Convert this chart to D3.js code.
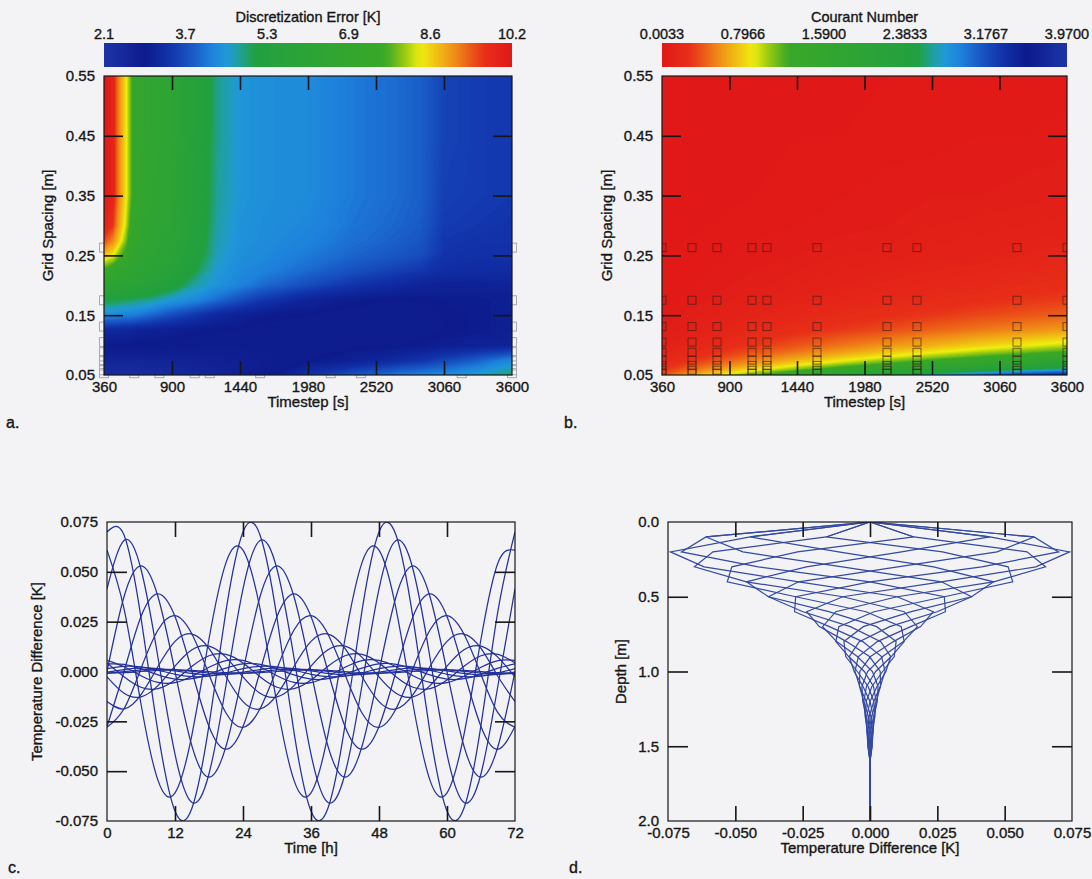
<!DOCTYPE html>
<html>
<head>
<meta charset="utf-8">
<script src="https://cdn.jsdelivr.net/npm/d3@7"></script>
<style>
  body { margin: 0; background: #f3f3f5; }
  text { font-family: "Liberation Sans", Arial, sans-serif; }
</style>
</head>
<body>
<svg id="fig" width="1092" height="879"></svg>
<script>
// ---------- a. discretization error field (timestep x grid spacing) ----------
var errTimesteps = [360, 430, 470, 530, 570, 610, 720, 900, 1080, 1260, 1440, 1620, 1980, 2340, 2700, 2880, 3060, 3330, 3600];
var errSpacings = [0.55, 0.45, 0.35, 0.30, 0.275, 0.25, 0.225, 0.20, 0.175, 0.15, 0.125, 0.10, 0.075, 0.05];
var errValues = [
  [10.2, 9.9, 9.2, 8.5, 7.9, 7.1, 6.7, 6.4, 5.6, 4.85, 4.5, 4.4, 4.35, 4.15, 4.0, 3.9, 3.6, 3.5, 3.45],
  [10.2, 9.9, 9.2, 8.5, 7.9, 7.1, 6.7, 6.4, 5.6, 4.85, 4.5, 4.4, 4.35, 4.15, 4.0, 3.9, 3.6, 3.5, 3.45],
  [10.2, 9.9, 9.2, 8.5, 7.9, 7.1, 6.6, 6.3, 5.55, 4.8, 4.5, 4.4, 4.35, 4.15, 4.0, 3.9, 3.55, 3.5, 3.45],
  [10.0, 9.6, 9.0, 8.3, 7.6, 7.0, 6.5, 6.2, 5.5, 4.75, 4.45, 4.38, 4.3, 4.1, 3.95, 3.85, 3.5, 3.45, 3.4],
  [9.5, 9.1, 8.7, 8.0, 7.4, 6.9, 6.4, 6.1, 5.45, 4.7, 4.45, 4.36, 4.25, 4.05, 3.9, 3.8, 3.45, 3.4, 3.4],
  [8.7, 8.4, 8.0, 7.5, 7.0, 6.7, 6.3, 6.0, 5.35, 4.65, 4.4, 4.33, 4.15, 3.95, 3.8, 3.7, 3.4, 3.35, 3.35],
  [7.6, 7.3, 7.0, 6.7, 6.5, 6.4, 6.1, 5.8, 5.1, 4.55, 4.35, 4.25, 4.0, 3.75, 3.55, 3.45, 3.3, 3.25, 3.25],
  [6.4, 6.3, 6.3, 6.2, 6.1, 6.0, 5.8, 5.3, 4.75, 4.45, 4.25, 4.0, 3.7, 3.4, 3.2, 3.1, 3.05, 3.05, 3.1],
  [5.1, 5.1, 5.05, 5.0, 4.95, 4.9, 4.8, 4.5, 4.3, 4.0, 3.7, 3.45, 3.1, 2.95, 2.9, 2.9, 2.95, 2.95, 3.0],
  [4.3, 4.3, 4.25, 4.2, 4.2, 4.15, 4.0, 3.7, 3.45, 3.2, 3.05, 2.95, 2.9, 2.85, 2.85, 2.85, 2.9, 2.95, 3.0],
  [3.2, 3.2, 3.2, 3.15, 3.15, 3.1, 3.05, 3.0, 2.95, 2.9, 2.9, 2.85, 2.85, 2.85, 2.85, 2.85, 2.9, 2.95, 3.0],
  [2.9, 2.9, 2.9, 2.9, 2.9, 2.9, 2.9, 2.88, 2.86, 2.85, 2.85, 2.85, 2.85, 2.88, 2.9, 2.95, 3.0, 3.05, 3.1],
  [2.6, 2.6, 2.6, 2.6, 2.6, 2.6, 2.62, 2.65, 2.7, 2.72, 2.75, 2.8, 2.9, 3.05, 3.25, 3.4, 3.6, 3.9, 4.3],
  [2.35, 2.35, 2.35, 2.35, 2.35, 2.36, 2.38, 2.42, 2.5, 2.6, 2.7, 2.85, 3.4, 3.8, 4.15, 4.25, 4.35, 4.6, 5.0]
];
var errRange = [2.1, 10.2];
var errTickLabels = ["2.1", "3.7", "5.3", "6.9", "8.6", "10.2"];

// ---------- b. courant number field ----------
var courantTimesteps = [360, 720, 1080, 1440, 1800, 2160, 2520, 2880, 3240, 3600];
var courantSpacings = [0.55, 0.45, 0.35, 0.30, 0.25, 0.20, 0.175, 0.15, 0.125, 0.10, 0.09, 0.08, 0.07, 0.06, 0.05];
var courantValues = [
  [0.00, 0.01, 0.01, 0.01, 0.02, 0.02, 0.02, 0.03, 0.03, 0.03],
  [0.00, 0.01, 0.01, 0.02, 0.02, 0.03, 0.03, 0.04, 0.04, 0.05],
  [0.01, 0.02, 0.02, 0.03, 0.04, 0.05, 0.06, 0.06, 0.07, 0.08],
  [0.01, 0.02, 0.03, 0.04, 0.05, 0.06, 0.08, 0.09, 0.10, 0.11],
  [0.02, 0.03, 0.05, 0.06, 0.08, 0.09, 0.11, 0.12, 0.14, 0.16],
  [0.02, 0.05, 0.07, 0.10, 0.12, 0.15, 0.17, 0.19, 0.22, 0.24],
  [0.03, 0.06, 0.10, 0.13, 0.16, 0.19, 0.22, 0.25, 0.29, 0.32],
  [0.04, 0.09, 0.13, 0.17, 0.22, 0.26, 0.30, 0.35, 0.39, 0.43],
  [0.06, 0.12, 0.19, 0.25, 0.31, 0.37, 0.44, 0.50, 0.56, 0.62],
  [0.10, 0.19, 0.29, 0.39, 0.49, 0.58, 0.68, 0.78, 0.87, 0.97],
  [0.12, 0.24, 0.36, 0.48, 0.60, 0.72, 0.84, 0.96, 1.08, 1.20],
  [0.15, 0.30, 0.46, 0.61, 0.76, 0.91, 1.06, 1.22, 1.37, 1.52],
  [0.20, 0.40, 0.60, 0.79, 0.99, 1.19, 1.39, 1.59, 1.79, 1.98],
  [0.27, 0.54, 0.81, 1.08, 1.35, 1.62, 1.89, 2.16, 2.43, 2.65],
  [0.39, 0.78, 1.17, 1.56, 1.94, 2.33, 2.72, 3.05, 3.30, 3.45]
];
var courantRange = [0.0033, 3.97];
var courantTickLabels = ["0.0033", "0.7966", "1.5900", "2.3833", "3.1767", "3.9700"];

// simulation runs marked with squares
var runTimesteps = [360, 600, 800, 1080, 1200, 1600, 2160, 2400, 3200, 3600];
var runSpacings = [0.263, 0.175, 0.131, 0.105, 0.088, 0.075, 0.066, 0.058, 0.053];

var stepTicks = [360, 900, 1440, 1980, 2520, 3060, 3600];
var stepTickLabels = ["360", "900", "1440", "1980", "2520", "3060", "3600"];
var spacingTicks = [0.55, 0.45, 0.35, 0.25, 0.15, 0.05];
var spacingTickLabels = ["0.55", "0.45", "0.35", "0.25", "0.15", "0.05"];

// ---------- c. temperature difference time series, one line per node ----------
var hours = [0, 3, 6, 9, 12, 15, 18, 21, 24, 27, 30, 33, 36, 39, 42, 45, 48, 51, 54, 57, 60, 63, 66, 69, 72];
var nodeDiffs = [
  [0.0609, 0.0315, -0.0163, -0.0546, -0.0609, -0.0315, 0.0163, 0.0546, 0.0609, 0.0315, -0.0163, -0.0546, -0.0609, -0.0315, 0.0163, 0.0546, 0.0609, 0.0315, -0.0163, -0.0546, -0.0609, -0.0315, 0.0163, 0.0546, 0.0609],
  [0.0700, 0.0685, 0.0269, -0.0305, -0.0700, -0.0685, -0.0269, 0.0305, 0.0700, 0.0685, 0.0269, -0.0305, -0.0700, -0.0685, -0.0269, 0.0305, 0.0700, 0.0685, 0.0269, -0.0305, -0.0700, -0.0685, -0.0269, 0.0305, 0.0700],
  [0.0415, 0.0657, 0.0513, 0.0069, -0.0415, -0.0657, -0.0513, -0.0069, 0.0415, 0.0657, 0.0513, 0.0069, -0.0415, -0.0657, -0.0513, -0.0069, 0.0415, 0.0657, 0.0513, 0.0069, -0.0415, -0.0657, -0.0513, -0.0069, 0.0415],
  [0.0000, 0.0375, 0.0530, 0.0375, 0.0000, -0.0375, -0.0530, -0.0375, 0.0000, 0.0375, 0.0530, 0.0375, 0.0000, -0.0375, -0.0530, -0.0375, 0.0000, 0.0375, 0.0530, 0.0375, 0.0000, -0.0375, -0.0530, -0.0375, 0.0000],
  [-0.0276, 0.0000, 0.0276, 0.0390, 0.0276, 0.0000, -0.0276, -0.0390, -0.0276, 0.0000, 0.0276, 0.0390, 0.0276, 0.0000, -0.0276, -0.0390, -0.0276, 0.0000, 0.0276, 0.0390, 0.0276, 0.0000, -0.0276, -0.0390, -0.0276],
  [-0.0280, -0.0187, 0.0015, 0.0208, 0.0280, 0.0187, -0.0015, -0.0208, -0.0280, -0.0187, 0.0015, 0.0208, 0.0280, 0.0187, -0.0015, -0.0208, -0.0280, -0.0187, 0.0015, 0.0208, 0.0280, 0.0187, -0.0015, -0.0208, -0.0280],
  [-0.0151, -0.0188, -0.0116, 0.0025, 0.0151, 0.0188, 0.0116, -0.0025, -0.0151, -0.0188, -0.0116, 0.0025, 0.0151, 0.0188, 0.0116, -0.0025, -0.0151, -0.0188, -0.0116, 0.0025, 0.0151, 0.0188, 0.0116, -0.0025, -0.0151],
  [-0.0027, -0.0109, -0.0127, -0.0071, 0.0027, 0.0109, 0.0127, 0.0071, -0.0027, -0.0109, -0.0127, -0.0071, 0.0027, 0.0109, 0.0127, 0.0071, -0.0027, -0.0109, -0.0127, -0.0071, 0.0027, 0.0109, 0.0127, 0.0071, -0.0027],
  [0.0043, -0.0026, -0.0079, -0.0086, -0.0043, 0.0026, 0.0079, 0.0086, 0.0043, -0.0026, -0.0079, -0.0086, -0.0043, 0.0026, 0.0079, 0.0086, 0.0043, -0.0026, -0.0079, -0.0086, -0.0043, 0.0026, 0.0079, 0.0086, 0.0043],
  [0.0056, 0.0024, -0.0021, -0.0055, -0.0056, -0.0024, 0.0021, 0.0055, 0.0056, 0.0024, -0.0021, -0.0055, -0.0056, -0.0024, 0.0021, 0.0055, 0.0056, 0.0024, -0.0021, -0.0055, -0.0056, -0.0024, 0.0021, 0.0055, 0.0056],
  [0.0038, 0.0036, 0.0013, -0.0017, -0.0038, -0.0036, -0.0013, 0.0017, 0.0038, 0.0036, 0.0013, -0.0017, -0.0038, -0.0036, -0.0013, 0.0017, 0.0038, 0.0036, 0.0013, -0.0017, -0.0038, -0.0036, -0.0013, 0.0017, 0.0038],
  [0.0014, 0.0026, 0.0023, 0.0007, -0.0014, -0.0026, -0.0023, -0.0007, 0.0014, 0.0026, 0.0023, 0.0007, -0.0014, -0.0026, -0.0023, -0.0007, 0.0014, 0.0026, 0.0023, 0.0007, -0.0014, -0.0026, -0.0023, -0.0007, 0.0014],
  [-0.0003, 0.0010, 0.0018, 0.0015, 0.0003, -0.0010, -0.0018, -0.0015, -0.0003, 0.0010, 0.0018, 0.0015, 0.0003, -0.0010, -0.0018, -0.0015, -0.0003, 0.0010, 0.0018, 0.0015, 0.0003, -0.0010, -0.0018, -0.0015, -0.0003],
  [-0.0009, -0.0001, 0.0008, 0.0012, 0.0009, 0.0001, -0.0008, -0.0012, -0.0009, -0.0001, 0.0008, 0.0012, 0.0009, 0.0001, -0.0008, -0.0012, -0.0009, -0.0001, 0.0008, 0.0012, 0.0009, 0.0001, -0.0008, -0.0012, -0.0009],
  [-0.0008, -0.0006, 0.0000, 0.0006, 0.0008, 0.0006, 0.0000, -0.0006, -0.0008, -0.0006, 0.0000, 0.0006, 0.0008, 0.0006, 0.0000, -0.0006, -0.0008, -0.0006, 0.0000, 0.0006, 0.0008, 0.0006, 0.0000, -0.0006, -0.0008]
];
var hourTicks = [0, 12, 24, 36, 48, 60, 72];
var diffTicks = [0.075, 0.05, 0.025, 0, -0.025, -0.05, -0.075];
var diffTickLabels = ["0.075", "0.050", "0.025", "0.000", "-0.025", "-0.050", "-0.075"];

// ---------- d. depth profiles of the difference, one line every 2 h ----------
var depths = [0, 0.1, 0.2, 0.3, 0.4, 0.5, 0.6, 0.7, 0.8, 0.9, 1.0, 1.1, 1.2, 1.3, 1.4, 1.5, 1.6, 1.7, 1.8, 1.9, 2.0];
var profileDiffs = [
  [0, 0.0609, 0.0700, 0.0415, 0.0000, -0.0276, -0.0280, -0.0151, -0.0027, 0.0043, 0.0056, 0.0038, 0.0014, -0.0003, -0.0009, -0.0008, 0, 0, 0, 0, 0],
  [0, 0.0445, 0.0741, 0.0616, 0.0265, -0.0101, -0.0235, -0.0188, -0.0087, -0.0002, 0.0038, 0.0039, 0.0023, 0.0006, -0.0004, -0.0007, 0, 0, 0, 0, 0],
  [0, 0.0163, 0.0583, 0.0652, 0.0459, 0.0101, -0.0127, -0.0176, -0.0124, -0.0047, 0.0009, 0.0030, 0.0027, 0.0014, 0.0002, -0.0004, 0, 0, 0, 0, 0],
  [0, -0.0163, 0.0269, 0.0513, 0.0530, 0.0276, 0.0015, -0.0116, -0.0127, -0.0079, -0.0021, 0.0013, 0.0023, 0.0018, 0.0008, 0.0000, 0, 0, 0, 0, 0],
  [0, -0.0445, -0.0117, 0.0236, 0.0459, 0.0377, 0.0153, -0.0025, -0.0097, -0.0090, -0.0047, -0.0007, 0.0014, 0.0017, 0.0011, 0.0004, 0, 0, 0, 0, 0],
  [0, -0.0609, -0.0472, -0.0103, 0.0265, 0.0377, 0.0249, 0.0073, -0.0040, -0.0077, -0.0059, -0.0026, 0.0000, 0.0012, 0.0012, 0.0007, 0, 0, 0, 0, 0],
  [0, -0.0609, -0.0700, -0.0415, 0.0000, 0.0276, 0.0280, 0.0151, 0.0027, -0.0043, -0.0056, -0.0038, -0.0014, 0.0003, 0.0009, 0.0008, 0, 0, 0, 0, 0],
  [0, -0.0445, -0.0741, -0.0616, -0.0265, 0.0101, 0.0235, 0.0188, 0.0087, 0.0002, -0.0038, -0.0039, -0.0023, -0.0006, 0.0004, 0.0007, 0, 0, 0, 0, 0],
  [0, -0.0163, -0.0583, -0.0652, -0.0459, -0.0101, 0.0127, 0.0176, 0.0124, 0.0047, -0.0009, -0.0030, -0.0027, -0.0014, -0.0002, 0.0004, 0, 0, 0, 0, 0],
  [0, 0.0163, -0.0269, -0.0513, -0.0530, -0.0276, -0.0015, 0.0116, 0.0127, 0.0079, 0.0021, -0.0013, -0.0023, -0.0018, -0.0008, 0.0000, 0, 0, 0, 0, 0],
  [0, 0.0445, 0.0117, -0.0236, -0.0459, -0.0377, -0.0153, 0.0025, 0.0097, 0.0090, 0.0047, 0.0007, -0.0014, -0.0017, -0.0011, -0.0004, 0, 0, 0, 0, 0],
  [0, 0.0609, 0.0472, 0.0103, -0.0265, -0.0377, -0.0249, -0.0073, 0.0040, 0.0077, 0.0059, 0.0026, 0.0000, -0.0012, -0.0012, -0.0007, 0, 0, 0, 0, 0]
];
var depthTicks = [0, 0.5, 1, 1.5, 2];
var depthTickLabels = ["0.0", "0.5", "1.0", "1.5", "2.0"];
var profileTicks = [-0.075, -0.05, -0.025, 0, 0.025, 0.05, 0.075];
var profileTickLabels = ["-0.075", "-0.050", "-0.025", "0.000", "0.025", "0.050", "0.075"];

// ---------- styling ----------
var INK = "#161616";
var FONT = '"Liberation Sans", Arial, sans-serif';
var LINE_C = "#24319a";
var LINE_D = "#3449a2";
// jet-like palette, positions as fraction of the colour bar
var paletteStops = [0, 0.1, 0.16, 0.22, 0.26, 0.3, 0.33, 0.37, 0.69, 0.74, 0.775, 0.86, 0.93, 1];
var paletteColors = ["#1c34a8", "#0d1b8c", "#1232aa", "#1a5cc8", "#1e80dc", "#2098d8", "#20a0a0", "#22a040",
                     "#3aa828", "#a0cc10", "#f0ee10", "#f08c18", "#e83018", "#e01818"];

var errColor = d3.scaleLinear()
  .domain(paletteStops.map(function (f) { return errRange[0] + f * (errRange[1] - errRange[0]); }))
  .range(paletteColors).clamp(true);
var courantColor = d3.scaleLinear()
  .domain(paletteStops.map(function (f) { return courantRange[1] - f * (courantRange[1] - courantRange[0]); }))
  .range(paletteColors).clamp(true);

var svg = d3.select("#fig");
svg.append("rect").attr("width", 1092).attr("height", 879).attr("fill", "#f3f3f5");
var defs = svg.append("defs");

function panel(x0, y0) {
  return svg.append("g").attr("transform", "translate(" + x0 + "," + y0 + ")");
}

function clipFor(id, w, h) {
  defs.append("clipPath").attr("id", id).append("rect").attr("width", w).attr("height", h);
  return "url(#" + id + ")";
}

// scanned print looks a little heavier than the plain face
function styleText(s, size) {
  s.attr("font-family", FONT).attr("font-size", size).attr("fill", INK)
    .attr("stroke", INK).attr("stroke-width", 0.35);
}

function frameAxes(g, x, y, o) {
  var w = Math.abs(x.range()[1] - x.range()[0]);
  var h = Math.abs(y.range()[1] - y.range()[0]);
  var labels = function (s) {
    s.select(".domain").remove();
    s.attr("font-family", FONT).attr("font-size", 15);
    s.selectAll("text").attr("fill", INK).attr("stroke", INK).attr("stroke-width", 0.35);
  };
  g.append("g").attr("transform", "translate(0," + h + ")")
    .call(d3.axisBottom(x).tickValues(o.xVals).tickFormat(function (d, i) { return o.xLabels[i]; })
      .tickSize(0).tickPadding(6))
    .call(labels);
  g.append("g")
    .call(d3.axisLeft(y).tickValues(o.yVals).tickFormat(function (d, i) { return o.yLabels[i]; })
      .tickSize(0).tickPadding(9))
    .call(labels);

  // inward ticks on all four sides
  var ticks = function (s) {
    s.select(".domain").remove();
    s.selectAll("line").attr("stroke", INK).attr("stroke-width", 1.6);
  };
  g.append("g").attr("transform", "translate(0," + h + ")")
    .call(d3.axisBottom(x).tickValues(o.xInner).tickFormat("").tickSizeInner(-o.vLen).tickSizeOuter(0)).call(ticks);
  g.append("g")
    .call(d3.axisTop(x).tickValues(o.xInner).tickFormat("").tickSizeInner(-o.vLen).tickSizeOuter(0)).call(ticks);
  g.append("g")
    .call(d3.axisLeft(y).tickValues(o.yInner).tickFormat("").tickSizeInner(-o.hLen).tickSizeOuter(0)).call(ticks);
  g.append("g").attr("transform", "translate(" + w + ",0)")
    .call(d3.axisRight(y).tickValues(o.yInner).tickFormat("").tickSizeInner(-o.hLen).tickSizeOuter(0)).call(ticks);

  g.append("rect").attr("width", w).attr("height", h)
    .attr("fill", "none").attr("stroke", INK).attr("stroke-width", 1.2);

  g.append("text").attr("x", w / 2).attr("y", h + 32).attr("text-anchor", "middle")
    .call(styleText, 15).text(o.xTitle);
  g.append("text").attr("transform", "translate(" + o.yTitleX + "," + (h / 2) + ") rotate(-90)")
    .attr("text-anchor", "middle").call(styleText, 15).text(o.yTitle);
}

// filled contour bands of a gridded field, grid may be unevenly spaced
function drawField(g, cols, rows, values, x, y, color, lo, hi, nLevels) {
  var gx = d3.scaleLinear().domain(cols.map(function (c, i) { return i + 0.5; })).range(cols);
  var gy = d3.scaleLinear().domain(rows.map(function (r, i) { return i + 0.5; })).range(rows);
  var path = d3.geoPath(d3.geoTransform({
    point: function (px, py) { this.stream.point(x(gx(px)), y(gy(py))); }
  }));
  var step = (hi - lo) / nLevels;
  var levels = d3.range(nLevels).map(function (i) { return lo + i * step; });
  var bands = d3.contours().size([cols.length, rows.length]).thresholds(levels)(d3.merge(values));
  g.append("rect")
    .attr("x", x.range()[0]).attr("y", y.range()[1])
    .attr("width", x.range()[1] - x.range()[0]).attr("height", y.range()[0] - y.range()[1])
    .attr("fill", color(lo));
  g.selectAll(null).data(bands).enter().append("path")
    .attr("d", path)
    .attr("fill", function (d) { return color(d.value + step / 2); });
}

function colorBar(g, w, color, range, tickLabels, title, id) {
  var grad = defs.append("linearGradient").attr("id", id);
  d3.range(61).forEach(function (i) {
    grad.append("stop").attr("offset", (i / 60 * 100) + "%")
      .attr("stop-color", color(range[0] + i / 60 * (range[1] - range[0])));
  });
  g.append("rect").attr("y", 43).attr("width", w).attr("height", 24).attr("fill", "url(#" + id + ")");
  var pos = d3.scalePoint().domain(tickLabels).range([0, w]);
  g.selectAll(null).data(tickLabels).enter().append("text")
    .attr("x", function (d) { return pos(d); }).attr("y", 39)
    .attr("text-anchor", "middle").call(styleText, 14.5)
    .text(function (d) { return d; });
  g.append("text").attr("x", w / 2).attr("y", 22).attr("text-anchor", "middle")
    .call(styleText, 14.5).text(title);
}

function squares(g, x, y, size, stroke, opacity) {
  var pts = [];
  runTimesteps.forEach(function (t) { runSpacings.forEach(function (s) { pts.push([t, s]); }); });
  g.selectAll(null).data(pts).enter().append("rect")
    .attr("x", function (d) { return x(d[0]) - size / 2; })
    .attr("y", function (d) { return y(d[1]) - size / 2; })
    .attr("width", size).attr("height", size)
    .attr("fill", "none").attr("stroke", stroke).attr("stroke-opacity", opacity).attr("stroke-width", 1);
}

function letter(x, y, s) {
  svg.append("text").attr("x", x).attr("y", y).call(styleText, 16).text(s);
}

// ---------- panel a ----------
(function () {
  var w = 408, h = 299;
  colorBar(svg.append("g").attr("transform", "translate(104,0)"), w, errColor, errRange,
    errTickLabels, "Discretization Error [K]", "gradA");
  var g = panel(104, 76);
  var x = d3.scaleLinear().domain([360, 3600]).range([0, w]);
  var y = d3.scaleLinear().domain([0.05, 0.55]).range([h, 0]);
  squares(g, x, y, 9, "#a9a9ae", 1);
  drawField(g.append("g").attr("clip-path", clipFor("clipA", w, h)),
    errTimesteps, errSpacings, errValues, x, y, errColor, 2.0, 10.3, 240);
  frameAxes(g, x, y, {
    xVals: stepTicks, xLabels: stepTickLabels, yVals: spacingTicks, yLabels: spacingTickLabels,
    xInner: stepTicks.slice(1, -1), yInner: spacingTicks.slice(1, -1), vLen: 14, hLen: 19,
    xTitle: "Timestep [s]", yTitle: "Grid Spacing [m]", yTitleX: -51
  });
  letter(6, 428, "a.");
})();

// ---------- panel b ----------
(function () {
  var w = 405, h = 299;
  colorBar(svg.append("g").attr("transform", "translate(662,0)"), w, courantColor, courantRange,
    courantTickLabels, "Courant Number", "gradB");
  var g = panel(662, 76);
  var x = d3.scaleLinear().domain([360, 3600]).range([0, w]);
  var y = d3.scaleLinear().domain([0.05, 0.55]).range([h, 0]);
  var clip = clipFor("clipB", w, h);
  drawField(g.append("g").attr("clip-path", clip),
    courantTimesteps, courantSpacings, courantValues, x, y, courantColor, -0.02, 4.0, 200);
  squares(g.append("g").attr("clip-path", clip), x, y, 8, "#3a1c12", 0.65);
  frameAxes(g, x, y, {
    xVals: stepTicks, xLabels: stepTickLabels, yVals: spacingTicks, yLabels: spacingTickLabels,
    xInner: stepTicks.slice(1, -1), yInner: spacingTicks.slice(1, -1), vLen: 14, hLen: 19,
    xTitle: "Timestep [s]", yTitle: "Grid Spacing [m]", yTitleX: -50
  });
  letter(564, 428, "b.");
})();

// ---------- panel c ----------
(function () {
  var w = 408, h = 299;
  var g = panel(107, 522);
  var x = d3.scaleLinear().domain([0, 72]).range([0, w]);
  var y = d3.scaleLinear().domain([-0.075, 0.075]).range([h, 0]);
  var line = d3.line()
    .x(function (d, i) { return x(hours[i]); })
    .y(function (d) { return y(d); })
    .curve(d3.curveNatural);
  g.append("g").attr("clip-path", clipFor("clipC", w, h))
    .selectAll("path").data(nodeDiffs).enter().append("path")
    .attr("d", line).attr("fill", "none").attr("stroke", LINE_C).attr("stroke-width", 1.25);
  frameAxes(g, x, y, {
    xVals: hourTicks, xLabels: hourTicks.map(String), yVals: diffTicks, yLabels: diffTickLabels,
    xInner: hourTicks.slice(1, -1), yInner: [0.05, 0.025, -0.025, -0.05], vLen: 15, hLen: 20,
    xTitle: "Time [h]", yTitle: "Temperature Difference [K]", yTitleX: -65
  });
  letter(8, 873, "c.");
})();

// ---------- panel d ----------
(function () {
  var w = 404, h = 299;
  var g = panel(668, 522);
  var x = d3.scaleLinear().domain([-0.075, 0.075]).range([0, w]);
  var y = d3.scaleLinear().domain([0, 2]).range([0, h]);
  var line = d3.line()
    .x(function (d) { return x(d); })
    .y(function (d, i) { return y(depths[i]); });
  g.append("g").attr("clip-path", clipFor("clipD", w, h))
    .selectAll("path").data(profileDiffs).enter().append("path")
    .attr("d", line).attr("fill", "none").attr("stroke", LINE_D).attr("stroke-width", 1.2);
  frameAxes(g, x, y, {
    xVals: profileTicks, xLabels: profileTickLabels, yVals: depthTicks, yLabels: depthTickLabels,
    xInner: profileTicks.slice(1, -1), yInner: [0.5, 1, 1.5], vLen: 15, hLen: 20,
    xTitle: "Temperature Difference [K]", yTitle: "Depth [m]", yTitleX: -42
  });
  letter(569, 873, "d.");
})();
</script>
</body>
</html>
